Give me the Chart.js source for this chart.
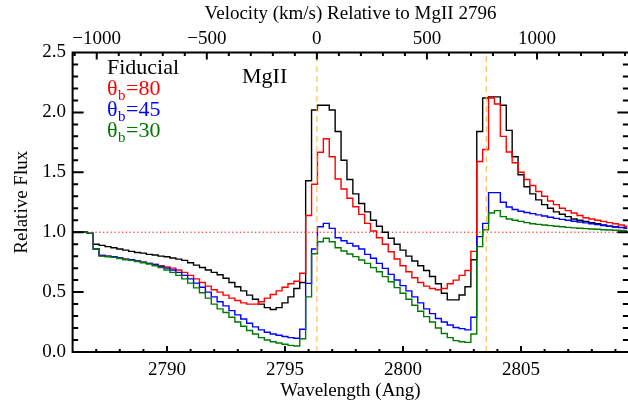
<!DOCTYPE html>
<html><head><meta charset="utf-8">
<script src="https://cdn.jsdelivr.net/npm/chart.js@4.4.1/dist/chart.umd.min.js"></script>
<style>html,body{margin:0;padding:0;background:#fff;overflow:hidden;width:628px;height:404px}canvas{display:block}</style>
</head><body>
<canvas id="c" width="630" height="404" style="width:630px;height:404px"></canvas>
<script>
// ---- data ----
const wavelength = [2786.00,2786.25,2786.50,2786.75,2787.00,2787.25,2787.50,2787.75,2788.00,2788.25,2788.50,2788.75,2789.00,2789.25,2789.50,2789.75,2790.00,2790.25,2790.50,2790.75,2791.00,2791.25,2791.50,2791.75,2792.00,2792.25,2792.50,2792.75,2793.00,2793.25,2793.50,2793.75,2794.00,2794.25,2794.50,2794.75,2795.00,2795.25,2795.50,2795.75,2796.00,2796.25,2796.50,2796.75,2797.00,2797.25,2797.50,2797.75,2798.00,2798.25,2798.50,2798.75,2799.00,2799.25,2799.50,2799.75,2800.00,2800.25,2800.50,2800.75,2801.00,2801.25,2801.50,2801.75,2802.00,2802.25,2802.50,2802.75,2803.00,2803.25,2803.50,2803.75,2804.00,2804.25,2804.50,2804.75,2805.00,2805.25,2805.50,2805.75,2806.00,2806.25,2806.50,2806.75,2807.00,2807.25,2807.50,2807.75,2808.00,2808.25,2808.50,2808.75,2809.00,2809.25,2809.50];
const fiducial = [1.00,1.00,1.00,0.99,0.90,0.89,0.88,0.87,0.86,0.85,
 0.84,0.83,0.825,0.815,0.81,0.80,0.795,0.785,0.775,0.765,
 0.745,0.725,0.705,0.685,0.665,0.645,0.615,0.58,0.545,0.51,
 0.475,0.44,0.40,0.37,0.355,0.37,0.41,0.46,0.53,0.58,
 1.43,2.02,2.06,2.06,2.02,1.84,1.60,1.44,1.32,1.24,
 1.17,1.10,1.05,1.00,0.95,0.90,0.85,0.80,0.76,0.72,
 0.68,0.63,0.57,0.49,0.435,0.435,0.476,0.545,0.77,1.84,
 2.12,2.13,2.13,2.06,1.85,1.63,1.48,1.38,1.32,1.27,
 1.23,1.20,1.17,1.15,1.13,1.11,1.10,1.09,1.08,1.07,
 1.06,1.05,1.045,1.04,1.035];
const thetaB80 = [1.00,1.00,1.00,0.99,0.86,0.805,0.80,0.795,0.785,0.775,
 0.77,0.76,0.75,0.74,0.73,0.72,0.71,0.70,0.685,0.665,
 0.64,0.61,0.58,0.55,0.52,0.50,0.475,0.45,0.43,0.41,
 0.40,0.40,0.42,0.45,0.48,0.51,0.54,0.57,0.59,0.657,
 1.14,1.40,1.667,1.78,1.63,1.444,1.36,1.283,1.213,1.149,
 1.074,1.01,0.954,0.899,0.837,0.776,0.72,0.67,0.62,0.58,
 0.55,0.53,0.52,0.53,0.57,0.60,0.64,0.68,0.84,1.59,
 1.69,2.12,2.07,1.80,1.67,1.58,1.50,1.44,1.39,1.34,
 1.30,1.26,1.23,1.20,1.18,1.16,1.14,1.12,1.11,1.10,
 1.09,1.08,1.07,1.06,1.05];
const thetaB45 = [1.00,1.00,1.00,0.99,0.86,0.805,0.80,0.795,0.785,0.775,
 0.77,0.76,0.75,0.74,0.73,0.715,0.70,0.685,0.665,0.64,
 0.61,0.575,0.54,0.50,0.46,0.42,0.385,0.345,0.31,0.275,
 0.24,0.21,0.185,0.165,0.15,0.14,0.13,0.12,0.115,0.19,
 0.573,0.86,1.046,1.074,1.032,0.954,0.929,0.907,0.885,0.86,
 0.815,0.782,0.74,0.698,0.648,0.601,0.554,0.51,0.46,0.41,
 0.36,0.32,0.28,0.25,0.225,0.205,0.195,0.185,0.29,0.963,
 1.074,1.33,1.33,1.25,1.21,1.19,1.175,1.165,1.155,1.145,
 1.135,1.125,1.115,1.107,1.10,1.092,1.085,1.078,1.07,1.063,
 1.056,1.05,1.044,1.038,1.032];
const thetaB30 = [1.00,1.00,1.00,0.99,0.86,0.80,0.795,0.79,0.78,0.77,
 0.765,0.755,0.745,0.735,0.72,0.705,0.685,0.665,0.64,0.61,
 0.575,0.535,0.495,0.45,0.40,0.36,0.33,0.29,0.25,0.215,
 0.18,0.15,0.12,0.10,0.085,0.075,0.065,0.055,0.05,0.11,
 0.46,0.82,0.92,0.95,0.92,0.87,0.843,0.818,0.796,0.768,
 0.74,0.704,0.67,0.629,0.587,0.537,0.49,0.44,0.39,0.34,
 0.295,0.25,0.20,0.155,0.12,0.095,0.085,0.08,0.15,0.88,
 1.02,1.16,1.18,1.13,1.11,1.10,1.09,1.08,1.07,1.065,
 1.06,1.055,1.05,1.045,1.04,1.036,1.033,1.03,1.027,1.024,
 1.021,1.018,1.016,1.014,1.012];
const xTicks = [2790, 2795, 2800, 2805];
const yTicks = [0.0, 0.5, 1.0, 1.5, 2.0, 2.5];
const velocityTicks = [-1000, -500, 0, 500, 1000];
const lineCenters = [2796.35, 2803.53];   // MgII 2796, 2803
const restWave = 2796.35;
const continuumLevel = 1.0;
const legendItems = [
  {text:'Fiducial', sub:null, color:'#000000'},
  {text:'θ', sub:'b', rest:'=80', color:'#ff0000'},
  {text:'θ', sub:'b', rest:'=45', color:'#0000ff'},
  {text:'θ', sub:'b', rest:'=30', color:'#007a00'}
];
const ionLabel = 'MgII';

// ---- setup ----
const C_KMS = 299792.458;
const X_MIN = 2786.0, X_MAX = 2809.55, Y_MIN = 0, Y_MAX = 2.5;
const FONT = '"Liberation Serif", "Times New Roman", serif';
const toXY = arr => wavelength.map((w,i)=>({x:w, y:arr[i]}));
const stepDs = (label, arr, color) => ({label, data: toXY(arr), borderColor: color, borderWidth: 1.4,
  stepped: 'middle', pointRadius: 0, fill: false, xAxisID: 'x', yAxisID: 'y'});

const datasets = [
  ...lineCenters.map(lc => ({label:'line', data:[{x:lc,y:Y_MIN},{x:lc,y:Y_MAX}], borderColor:'rgba(255,185,80,0.9)',
     borderWidth:1.2, borderDash:[6,4], pointRadius:0, xAxisID:'x', yAxisID:'y'})),
  stepDs('θb=30', thetaB30, '#007a00'),
  stepDs('θb=45', thetaB45, '#0000ff'),
  stepDs('θb=80', thetaB80, '#ff0000'),
  stepDs('Fiducial', fiducial, '#000000'),
  {label:'continuum', data:[{x:X_MIN,y:continuumLevel},{x:X_MAX,y:continuumLevel}], borderColor:'#ff0000',
     borderWidth:1, borderDash:[1.3,2.5], pointRadius:0, xAxisID:'x', yAxisID:'y'}
];

const frameTicks = {
  id:'frameTicks',
  afterDraw(chart){
    const {ctx, chartArea:a, scales} = chart;
    const sx = scales.x, st = scales.xTop, sy = scales.y;
    ctx.save();
    ctx.strokeStyle = '#000'; ctx.lineWidth = 2; ctx.lineCap = 'butt';
    ctx.beginPath();
    ctx.moveTo(a.left-1, a.bottom); ctx.lineTo(a.right+3, a.bottom);
    ctx.moveTo(a.left-1, a.top); ctx.lineTo(a.right+3, a.top);
    ctx.moveTo(a.left, a.top); ctx.lineTo(a.left, a.bottom);
    // bottom ticks
    for (let v = Math.ceil(X_MIN); v <= X_MAX; v += 1) {
      const p = sx.getPixelForValue(v);
      const L = (v % 5 === 0) ? 6 : 3;
      ctx.moveTo(p, a.bottom); ctx.lineTo(p, a.bottom - L);
    }
    // top ticks (velocity)
    for (let v = -1100; v <= st.max; v += 100) {
      if (v < st.min) continue;
      const p = st.getPixelForValue(v);
      const L = (v % 500 === 0) ? 7 : 3.5;
      ctx.moveTo(p, a.top); ctx.lineTo(p, a.top + L);
    }
    // left/right ticks
    for (let k = 0; k <= 25; k++) {
      const v = k/10;
      const p = sy.getPixelForValue(v);
      const L = (k % 5 === 0) ? 11 : 5.5;
      ctx.moveTo(a.left, p); ctx.lineTo(a.left + L, p);
      ctx.moveTo(a.right, p); ctx.lineTo(a.right - L, p);
    }
    ctx.stroke();
    // legend & label text
    ctx.textBaseline = 'alphabetic'; ctx.textAlign = 'left';
    const lx = 107, baselines = [74, 95, 116, 137];
    legendItems.forEach((it, i) => {
      ctx.fillStyle = it.color;
      ctx.font = '22px ' + FONT;
      let x = lx;
      ctx.fillText(it.text, x, baselines[i]);
      x += ctx.measureText(it.text).width;
      if (it.sub) {
        ctx.font = '15px ' + FONT;
        ctx.fillText(it.sub, x + 0.5, baselines[i] + 5);
        x += ctx.measureText(it.sub).width + 1;
        ctx.font = '22px ' + FONT;
        ctx.fillText(it.rest, x, baselines[i]);
      }
    });
    ctx.fillStyle = '#000';
    ctx.font = '22px ' + FONT;
    ctx.fillText(ionLabel, 242, 83);
    ctx.restore();
  }
};

const tickFont = {family: FONT, size: 19};
new Chart(document.getElementById('c'), {
  type: 'line',
  data: { datasets },
  options: {
    responsive: false, animation: false, devicePixelRatio: 1, events: [],
    layout: { padding: {left:0, right:1.6, top:0, bottom:0} },
    plugins: { legend:{display:false}, tooltip:{enabled:false} },
    scales: {
      x: {
        type:'linear', position:'bottom', min:X_MIN, max:X_MAX,
        afterFit(s){ s.height = 52; },
        afterBuildTicks(s){ s.ticks = xTicks.map(v=>({value:v})); },
        grid:{display:false, drawTicks:false}, border:{display:false},
        ticks:{color:'#000', font:tickFont, padding:7, maxRotation:0, autoSkip:false, callback:v=>String(v)},
        title:{display:true, text:'Wavelength (Ang)', color:'#000', font:tickFont, padding:{top:0, bottom:2}}
      },
      xTop: {
        type:'linear', position:'top', axis:'x',
        min: C_KMS*(X_MIN-restWave)/restWave, max: C_KMS*(X_MAX-restWave)/restWave,
        afterFit(s){ s.height = 52.5; },
        afterBuildTicks(s){ s.ticks = velocityTicks.map(v=>({value:v})); },
        grid:{display:false, drawTicks:false}, border:{display:false},
        ticks:{color:'#000', font:tickFont, padding:2.5, maxRotation:0, autoSkip:false,
               callback:v=> v < 0 ? '\u2212' + Math.abs(v) : String(v)},
        title:{display:true, text:'Velocity (km/s) Relative to MgII 2796', color:'#000', font:tickFont, padding:{top:3, bottom:0}}
      },
      y: {
        type:'linear', position:'left', min:Y_MIN, max:Y_MAX,
        afterFit(s){ s.width = 72.6; },
        afterBuildTicks(s){ s.ticks = yTicks.map(v=>({value:v})); },
        grid:{display:false, drawTicks:false}, border:{display:false},
        ticks:{color:'#000', font:tickFont, padding:6.5, autoSkip:false, callback:v=>Number(v).toFixed(1)},
        title:{display:true, text:'Relative Flux', color:'#000', font:tickFont, padding:{top:11, bottom:0}}
      }
    }
  },
  plugins: [frameTicks]
});
</script>
</body></html>
